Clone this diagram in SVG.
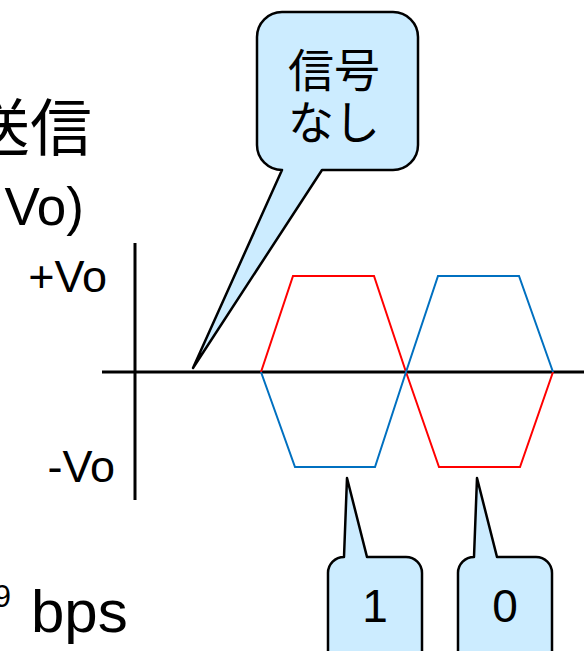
<svg xmlns="http://www.w3.org/2000/svg" width="584" height="651" viewBox="0 0 584 651">
  <style>
    .t { font-family: "Liberation Sans", Arial, sans-serif; fill: #000; }
    .j { font-family: "Liberation Sans", "Noto Sans CJK JP", sans-serif; fill: #000; }
    .call { fill: #CCECFF; stroke: #000; stroke-width: 2.5; stroke-linejoin: round; }
    .ax { stroke: #000; stroke-width: 3; fill: none; }
    .red { stroke: #FF0000; stroke-width: 2; fill: none; stroke-linejoin: miter; }
    .blue { stroke: #0070C0; stroke-width: 2; fill: none; stroke-linejoin: miter; }
  </style>
  <rect width="584" height="651" fill="#fff"/>
  <g id="labels">
    <text class="j" x="92" y="151" font-size="62" text-anchor="end">送信</text>
    <text class="t" x="84" y="225" font-size="53" text-anchor="end">Vo)</text>
    <text class="t" x="107" y="292" font-size="45" text-anchor="end">+Vo</text>
    <text class="t" x="115" y="482" font-size="45" text-anchor="end">-Vo</text>
    <text class="t" x="11" y="607" font-size="31" text-anchor="end">9</text>
    <text class="t" x="31" y="632" font-size="60">bps</text>
  </g>
  <g id="connectors">
    <line class="ax" x1="102" y1="372" x2="584" y2="372"/>
    <line class="ax" x1="135" y1="243" x2="135" y2="500"/>
    <polyline class="red" points="261,372 293,276 374,276 406,372 439,467 520,467 553,372"/>
    <polyline class="blue" points="261,372 295,467 375,467 406,372 438,276 519,276 553,372"/>
  </g>
  <g id="callout-none">
    <path class="call" d="M282,12 H393 A25,25 0 0 1 418,37 V145 A25,25 0 0 1 393,170 H322 L193,368 L282,170 A25,25 0 0 1 257,145 V37 A25,25 0 0 1 282,12 Z"/>
    <text class="j" x="334" y="87" font-size="46" text-anchor="middle">信号</text>
    <text class="j" x="334" y="139" font-size="46" text-anchor="middle">なし</text>
  </g>
  <g id="callout-1">
    <path class="call" d="M344,557 L347,478 L367,557 H406 A16,16 0 0 1 422,573 V680 H328 V573 A16,16 0 0 1 344,557 Z"/>
    <text class="t" x="375" y="622" font-size="46" text-anchor="middle">1</text>
  </g>
  <g id="callout-0">
    <path class="call" d="M474,557 L477,478 L497,557 H536 A16,16 0 0 1 552,573 V680 H458 V573 A16,16 0 0 1 474,557 Z"/>
    <text class="t" x="505" y="622" font-size="46" text-anchor="middle">0</text>
  </g>
</svg>
